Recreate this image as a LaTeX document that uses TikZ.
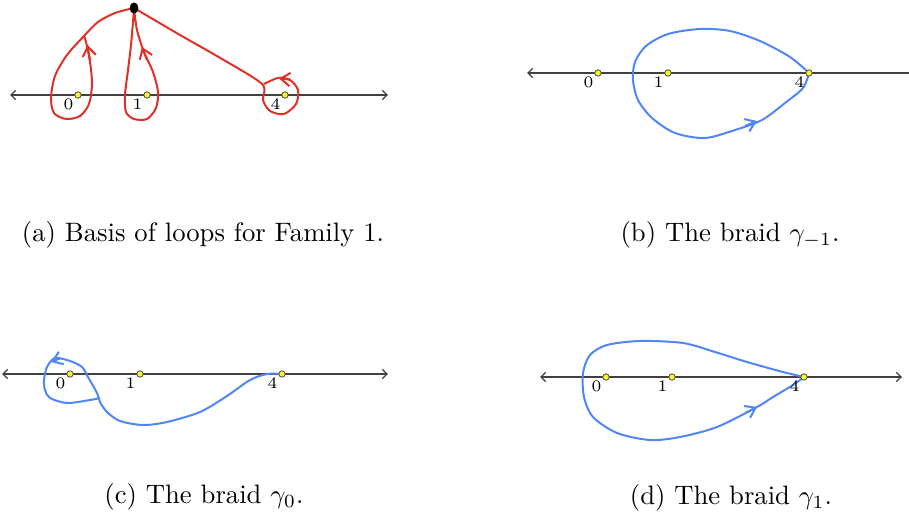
\documentclass[tikz,border=0pt]{standalone}
\usetikzlibrary{arrows.meta,shapes.geometric,backgrounds}
\definecolor{loopred}{RGB}{224,48,40}
\definecolor{braidblue}{RGB}{80,134,246}
\definecolor{ptyellow}{RGB}{250,245,40}
\begin{document}
\begin{tikzpicture}[
  x=0.375pt, y=-0.375pt,
  >={Straight Barb[length=3.5pt,width=5pt]},
  pt/.style={circle,draw=black!70,fill=ptyellow,line width=0.3pt,minimum size=2.4pt,inner sep=0pt},
  numlbl/.style={font=\fontsize{6.3}{7}\selectfont,inner sep=0.6pt},
  basedot/.style={ellipse,fill=black,minimum width=3.3pt,minimum height=4.2pt,inner sep=0pt},
  axisline/.style={draw=black!75,line width=0.45pt},
  axistips/.style={{Straight Barb[length=1.8pt,width=3.5pt]}-{Straight Barb[length=1.8pt,width=3.5pt]}},
  redloop/.style={draw=loopred,line width=0.75pt,line join=round},
  bluebraid/.style={draw=braidblue,line width=0.75pt,line join=round},
  caption/.style={anchor=base,font=\normalsize}
]
  \useasboundingbox (0,0) rectangle (909,523);

  % (a)
  \coordinate (aL) at (10,95);
  \coordinate (aR) at (388,95);
  \node[pt,label={[numlbl]225:$0$}] (a0) at (78,95)  {};
  \node[pt,label={[numlbl]225:$1$}] (a1) at (147,95) {};
  \node[pt,label={[numlbl]225:$4$}] (a4) at (285,95) {};
  \node[basedot] (base) at (134,8) {};

  % (b)
  \coordinate (bL) at (527,73);
  \coordinate (bR) at (909,73);
  \node[pt,label={[numlbl]225:$0$}] (b0) at (598,73) {};
  \node[pt,label={[numlbl]225:$1$}] (b1) at (668,73) {};
  \node[pt,label={[numlbl]225:$4$}] (b4) at (809,73) {};

  % (c)
  \coordinate (cL) at (2,374);
  \coordinate (cR) at (388,374);
  \node[pt,label={[numlbl]225:$0$}] (c0) at (70,374)  {};
  \node[pt,label={[numlbl]225:$1$}] (c1) at (140,374) {};
  \node[pt,label={[numlbl]225:$4$}] (c4) at (282,374) {};

  % (d)
  \coordinate (dL) at (540,377);
  \coordinate (dR) at (902,377);
  \node[pt,label={[numlbl]225:$0$}] (d0) at (606,377) {};
  \node[pt,label={[numlbl]225:$1$}] (d1) at (672,377) {};
  \node[pt,label={[numlbl]225:$4$}] (d4) at (804,377) {};

  \begin{scope}[on background layer]
    \draw[axisline,axistips] (aL) -- (aR);
    \draw[axisline,{Straight Barb[length=1.8pt,width=3.5pt]}-] (bL) -- (bR);
    \draw[axisline,axistips] (cL) -- (cR);
    \draw[axisline,axistips] (dL) -- (dR);

    % loops of (a)
    \draw[redloop] plot[smooth] coordinates {(base) (115,13) (98,22) (84,36) (67,55) (55,76) (51,98) (54,113) (66,119) (80,116) (89,104) (92,84) (90,62) (86,42) (84,36)};
    \draw[redloop] plot[smooth] coordinates {(base) (133,22) (131,45) (128,70) (125,95) (126,112) (134,119) (147,119) (156,108) (158,92) (153,72) (144,52) (137,30) (base)};
    \draw[redloop] plot[smooth] coordinates {(base) (180,35) (222,59) (262,84) (263,100) (270,111) (284,114) (296,104) (298,90) (290,80) (278,78) (264,84)};
    \draw[redloop,->] (90,60) -- (87.5,45);
    \draw[redloop,->] (147,60) -- (142,47);
    \draw[redloop,->] (290,79.5) -- (279,78.5);

    % braids
    \draw[bluebraid] plot[smooth] coordinates {(b4) (790,57) (760,41) (730,31) (700,29) (668,34) (646,46) (635,62) (633,80) (638,100) (652,118) (675,133) (705,138) (735,130) (762,120) (785,103) (803,88) (b4)};
    \draw[bluebraid,->] (745,126) -- (757,121);
    \draw[bluebraid] plot[smooth] coordinates {(c4) (267,374) (250,380) (227,396) (200,412) (167,422) (143,425) (120,421) (107,412) (100,402) (97,393) (88,377) (82,367) (70,361) (55,358) (47,367) (44,380) (45,390) (50,398) (67,403) (90,400) (100,398)};
    \draw[bluebraid,->] (60,358.5) -- (51,362);
    \draw[bluebraid] plot[smooth] coordinates {(d4) (783,372) (747,362) (715,352) (683,343) (640,341) (607,345) (590,355) (583,373) (584,397) (593,417) (617,433) (650,440) (680,437) (717,427) (757,407) (773,397) (793,385) (d4)};
    \draw[bluebraid,->] (745,413) -- (757,407);
  \end{scope}

  \node[caption] (capa) at (203,242) {(a) Basis of loops for Family 1.};
  \node[caption] (capb) at (730,242) {(b) The braid $\gamma_{-1}$.};
  \node[caption] (capc) at (204,503) {(c) The braid $\gamma_0$.};
  \node[caption] (capd) at (731,504) {(d) The braid $\gamma_1$.};
\end{tikzpicture}
\end{document}
